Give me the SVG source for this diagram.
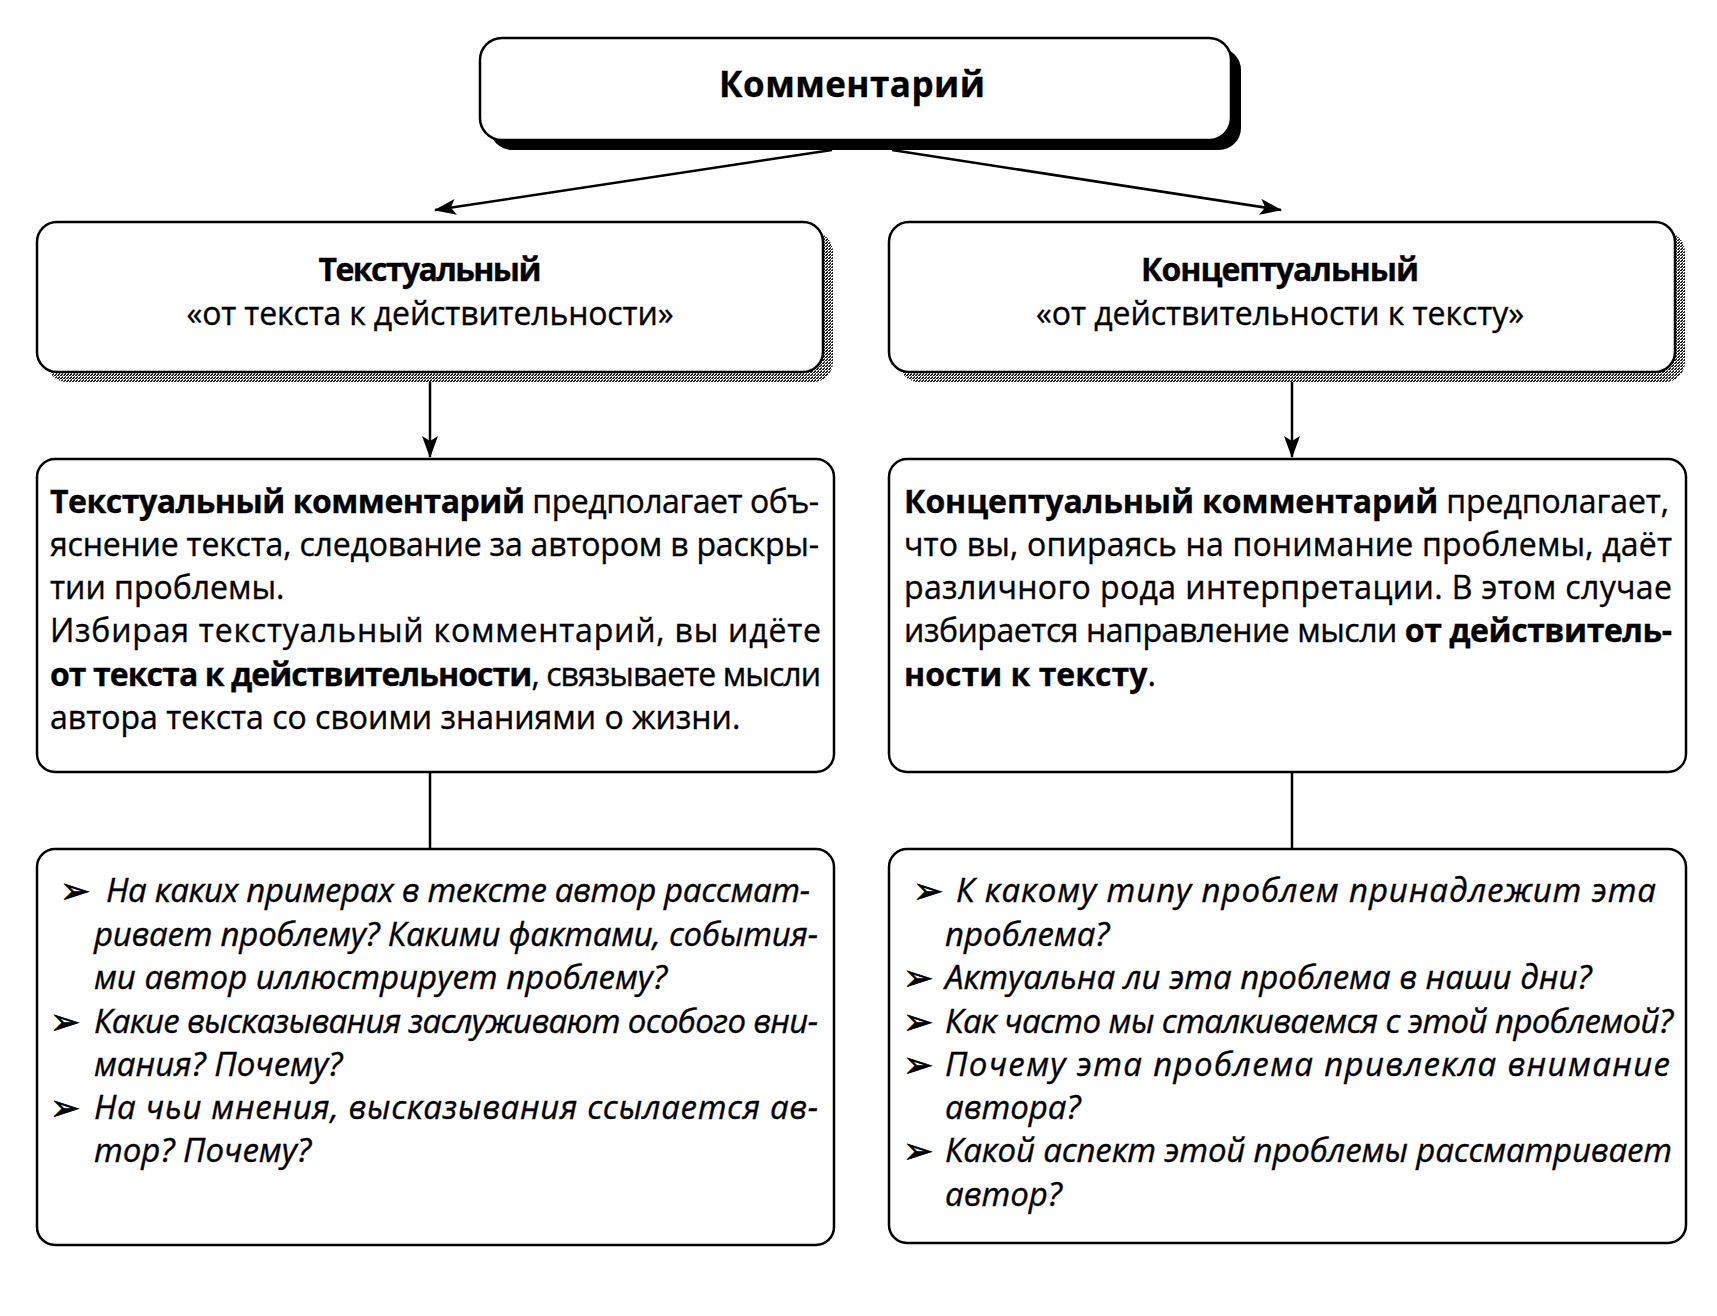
<svg xmlns="http://www.w3.org/2000/svg" width="1717" height="1316" viewBox="0 0 1717 1316">
<defs>
<pattern id="ht" width="3" height="3" patternUnits="userSpaceOnUse">
<rect width="3" height="3" fill="#fff"/>
<rect x="0" y="0" width="2" height="1" fill="#222"/>
<rect x="1" y="2" width="2" height="1" fill="#222"/>
<rect x="2" y="1" width="1" height="1" fill="#444"/>
</pattern>
<marker id="ah" viewBox="0 0 22 16" refX="21" refY="8" markerWidth="22" markerHeight="16" markerUnits="userSpaceOnUse" orient="auto">
<path d="M0,0 L22,8 L0,16 L5,8 Z" fill="#000"/>
</marker>
</defs>
<style>
.box{fill:#fff;stroke:#000;stroke-width:2.5}
.t{font-family:"Open Sans","Noto Sans","DejaVu Sans",sans-serif;font-size:32px;fill:#000;stroke:#000;stroke-width:0.35}
.b{font-weight:bold}
.i{font-style:italic;font-size:33px}
.c{text-anchor:middle}
.bul{font-family:"DejaVu Sans",sans-serif;font-size:36px;font-weight:bold;fill:#000;stroke:#000;stroke-width:0.8}
.ln{stroke:#000;stroke-width:2.5;fill:none}
</style>
<rect width="1717" height="1316" fill="#fff"/>

<g id="connectors">
<line class="ln" x1="832" y1="150" x2="435" y2="210" marker-end="url(#ah)"/>
<line class="ln" x1="892" y1="150" x2="1281" y2="210" marker-end="url(#ah)"/>
<line class="ln" x1="430" y1="372" x2="430" y2="457" marker-end="url(#ah)"/>
<line class="ln" x1="1292" y1="372" x2="1292" y2="457" marker-end="url(#ah)"/>
<line class="ln" x1="430" y1="772" x2="430" y2="849"/>
<line class="ln" x1="1292" y1="772" x2="1292" y2="849"/>
</g>

<g id="n-root">
<rect x="490" y="48" width="751" height="102" rx="22" fill="#000"/>
<rect class="box" x="480" y="38" width="751" height="102" rx="22"/>
<text class="t b c" x="852" y="97" style="font-size:35px" textLength="266">Комментарий</text>
</g>

<g id="n-text">
<rect x="47" y="232" width="786" height="150" rx="20" fill="url(#ht)"/>
<rect class="box" x="37" y="222" width="786" height="150" rx="20"/>
<text class="t b c" x="430" y="281" textLength="223">Текстуальный</text>
<text class="t c" x="430" y="325" textLength="487">«от текста к действительности»</text>
</g>

<g id="n-concept">
<rect x="899" y="232" width="786" height="150" rx="20" fill="url(#ht)"/>
<rect class="box" x="889" y="222" width="786" height="150" rx="20"/>
<text class="t b c" x="1280" y="281" textLength="278">Концептуальный</text>
<text class="t c" x="1280" y="325" textLength="488">«от действительности к тексту»</text>
</g>

<g id="n-text-desc">
<rect class="box" x="37" y="459" width="797" height="313" rx="18"/>
<text class="t" x="50" y="513" textLength="769"><tspan class="b">Текстуальный комментарий</tspan> предполагает объ-</text>
<text class="t" x="50" y="556" textLength="769">яснение текста, следование за автором в раскры-</text>
<text class="t" x="50" y="599">тии проблемы.</text>
<text class="t" x="50" y="642" textLength="771">Избирая текстуальный комментарий, вы идёте</text>
<text class="t" x="50" y="686" textLength="771"><tspan class="b">от текста к действительности</tspan>, связываете мысли</text>
<text class="t" x="50" y="729">автора текста со своими знаниями о жизни.</text>
</g>

<g id="n-concept-desc">
<rect class="box" x="889" y="459" width="797" height="313" rx="18"/>
<text class="t" x="904" y="513" textLength="765"><tspan class="b">Концептуальный комментарий</tspan> предполагает,</text>
<text class="t" x="904" y="556" textLength="768">что вы, опираясь на понимание проблемы, даёт</text>
<text class="t" x="904" y="599" textLength="768">различного рода интерпретации. В этом случае</text>
<text class="t" x="904" y="642" textLength="768">избирается направление мысли <tspan class="b">от действитель-</tspan></text>
<text class="t" x="904" y="686"><tspan class="b">ности к тексту</tspan>.</text>
</g>

<g id="n-text-questions">
<rect class="box" x="37" y="849" width="797" height="396" rx="18"/>
<text class="bul" x="60" y="903">➢</text>
<text class="t i" x="106" y="902" textLength="704">На каких примерах в тексте автор рассмат-</text>
<text class="t i" x="94" y="946" textLength="724">ривает проблему? Какими фактами, события-</text>
<text class="t i" x="94" y="989">ми автор иллюстрирует проблему?</text>
<text class="bul" x="50" y="1034">➢</text>
<text class="t i" x="94" y="1033" textLength="724">Какие высказывания заслуживают особого вни-</text>
<text class="t i" x="94" y="1076">мания? Почему?</text>
<text class="bul" x="50" y="1120">➢</text>
<text class="t i" x="94" y="1119" textLength="724">На чьи мнения, высказывания ссылается ав-</text>
<text class="t i" x="94" y="1162">тор? Почему?</text>
</g>

<g id="n-concept-questions">
<rect class="box" x="889" y="849" width="797" height="394" rx="18"/>
<text class="bul" x="913" y="903">➢</text>
<text class="t i" x="956" y="902" textLength="700">К какому типу проблем принадлежит эта</text>
<text class="t i" x="945" y="946">проблема?</text>
<text class="bul" x="903" y="990">➢</text>
<text class="t i" x="945" y="989">Актуальна ли эта проблема в наши дни?</text>
<text class="bul" x="903" y="1034">➢</text>
<text class="t i" x="945" y="1033" textLength="728">Как часто мы сталкиваемся с этой проблемой?</text>
<text class="bul" x="903" y="1077">➢</text>
<text class="t i" x="945" y="1076" textLength="725">Почему эта проблема привлекла внимание</text>
<text class="t i" x="945" y="1119">автора?</text>
<text class="bul" x="903" y="1163">➢</text>
<text class="t i" x="945" y="1162" textLength="727">Какой аспект этой проблемы рассматривает</text>
<text class="t i" x="945" y="1206">автор?</text>
</g>
</svg>
